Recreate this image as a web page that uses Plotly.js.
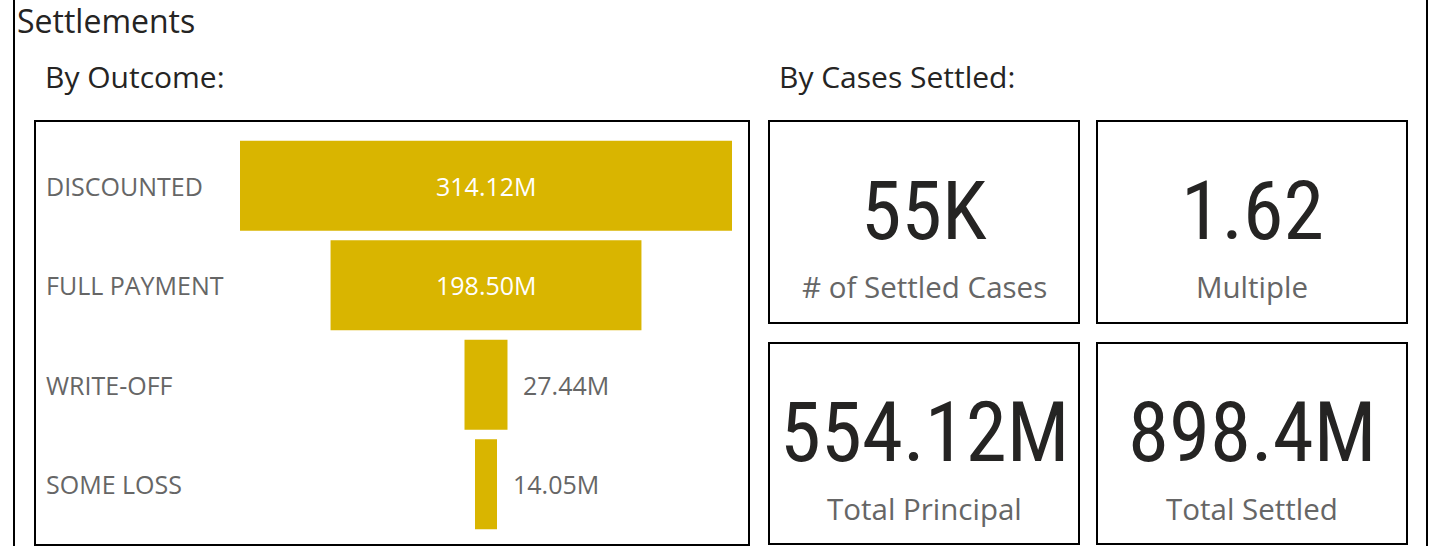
<!DOCTYPE html>
<html>
<head>
<meta charset="utf-8">
<script src="https://cdn.plot.ly/plotly-3.0.1.min.js"></script>
<style>html,body{margin:0;padding:0;background:#fff;}#chart{width:1430px;height:546px;}</style>
</head>
<body>
<div id="chart"></div>
<script>
// ---- data ----
const outcomes = ['DISCOUNTED', 'FULL PAYMENT', 'WRITE-OFF', 'SOME LOSS'];
const outcomeValues = [314.12, 198.50, 27.44, 14.05]; // millions
const kpiValues = ['55K', '1.62', '554.12M', '898.4M'];
const kpiLabels = ['# of Settled Cases', 'Multiple', 'Total Principal', 'Total Settled'];
const titleText = 'Settlements';
const subTitles = ['By Outcome:', 'By Cases Settled:'];

// ---- layout geometry ----
const W = 1430, H = 546;
const ml = 240, mr = W - 732, mt = 136, mb = 12;
const pw = W - ml - mr, ph = H - mt - mb;
const px = v => (v - ml) / pw;
const py = v => 1 - (v - mt) / ph;

const maxV = Math.max(...outcomeValues);
const labelFont = "'Segoe UI', 'Open Sans', sans-serif";
const kpiFont = "'DIN', 'Liberation Sans Narrow', 'Roboto Condensed', 'DejaVu Sans Condensed', sans-serif";

const shapes = [];
function rect(x0, y0, x1, y1) {
  shapes.push({type: 'rect', xref: 'paper', yref: 'paper', x0: px(x0), x1: px(x1), y0: py(y0), y1: py(y1),
    line: {color: '#000', width: 2}, fillcolor: 'rgba(0,0,0,0)', layer: 'above'});
}
function vline(x, y0, y1) {
  shapes.push({type: 'line', xref: 'paper', yref: 'paper', x0: px(x), x1: px(x), y0: py(y0), y1: py(y1),
    line: {color: '#000', width: 2}});
}
vline(14, 0, 546);
vline(1427, 0, 546);
rect(35, 121, 749, 545);
const cards = [[769, 121, 1079, 323], [1097, 121, 1407, 323], [769, 343, 1079, 544], [1097, 343, 1407, 544]];
cards.forEach(c => rect(...c));

const annotations = [];
annotations.push({xref: 'paper', yref: 'paper', x: px(15), y: py(20), xanchor: 'left', yanchor: 'middle',
  text: titleText, showarrow: false, font: {family: labelFont, size: 32, color: '#252423'}});
annotations.push({xref: 'paper', yref: 'paper', x: px(43), y: py(77), xanchor: 'left', yanchor: 'middle',
  text: subTitles[0], showarrow: false, font: {family: labelFont, size: 30, color: '#252423'}});
annotations.push({xref: 'paper', yref: 'paper', x: px(777), y: py(77), xanchor: 'left', yanchor: 'middle',
  text: subTitles[1], showarrow: false, font: {family: labelFont, size: 30, color: '#252423'}});

// category labels
outcomes.forEach((c, i) => {
  annotations.push({xref: 'paper', yref: 'y', x: px(44), y: c, xanchor: 'left', yanchor: 'middle',
    text: c, showarrow: false, font: {family: labelFont, size: 25, color: '#666666'}});
});
// value labels
outcomeValues.forEach((v, i) => {
  const inside = v / maxV > 0.3;
  annotations.push({xref: 'x', yref: 'y', x: inside ? 0 : v / 2, y: outcomes[i],
    xanchor: inside ? 'center' : 'left', yanchor: 'middle', xshift: inside ? 0 : 14,
    text: v.toFixed(2) + 'M', showarrow: false,
    font: {family: labelFont, size: 25, color: inside ? '#ffffff' : '#666666'}});
});
// KPI cards
const kpiCenters = [[924, 211, 286, 82], [1252, 211, 286, 82], [924, 432, 508, 83], [1252, 432, 508, 83]];
kpiValues.forEach((v, i) => {
  const [cx, cy, ly, fs] = kpiCenters[i];
  annotations.push({xref: 'paper', yref: 'paper', x: px(cx), y: py(cy), xanchor: 'center', yanchor: 'middle',
    text: v, showarrow: false, font: {family: kpiFont, size: fs, color: '#252423'}});
  annotations.push({xref: 'paper', yref: 'paper', x: px(cx), y: py(ly), xanchor: 'center', yanchor: 'middle',
    text: kpiLabels[i], showarrow: false, font: {family: labelFont, size: 29.5, color: '#666666'}});
});

const trace = {
  type: 'funnel',
  y: outcomes,
  x: outcomeValues,
  textinfo: 'none',
  hoverinfo: 'y+x',
  marker: {color: '#D9B500', line: {width: 0}},
  connector: {visible: false}
};

const layout = {
  width: W, height: H,
  margin: {l: ml, r: mr, t: mt, b: mb, pad: 0},
  paper_bgcolor: '#ffffff', plot_bgcolor: '#ffffff',
  showlegend: false,
  funnelgap: 0.094,
  xaxis: {range: [-maxV / 2, maxV / 2], visible: false, fixedrange: true},
  yaxis: {showticklabels: false, showgrid: false, zeroline: false, fixedrange: true},
  shapes: shapes,
  annotations: annotations
};

Plotly.newPlot('chart', [trace], layout, {displayModeBar: false, staticPlot: true});
</script>
</body>
</html>
